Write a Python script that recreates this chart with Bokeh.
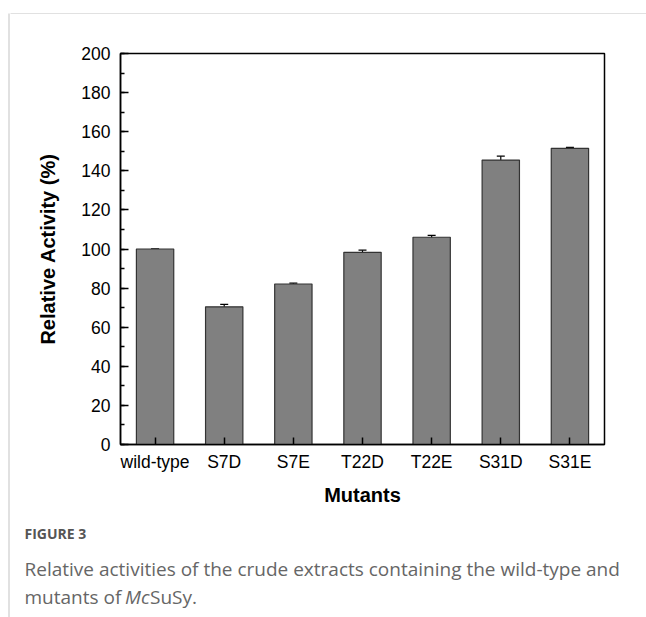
from bokeh.plotting import figure
from bokeh.layouts import row, column
from bokeh.models import (ColumnDataSource, Whisker, TeeHead, SingleIntervalTicker,
                          FixedTicker, Range1d)
from bokeh.core.properties import value
from bokeh.embed import file_html
from bokeh.resources import INLINE

# ---- data ----
mutants = ["wild-type", "S7D", "S7E", "T22D", "T22E", "S31D", "S31E"]
activity = [100.0, 70.4, 82.1, 98.3, 106.0, 145.5, 151.5]
errors = [0.0, 1.3, 0.4, 1.1, 1.0, 2.0, 0.5]
y_ticks = [0, 20, 40, 60, 80, 100, 120, 140, 160, 180, 200]

caption_head = "FIGURE 3"
caption_line1 = "Relative activities of the crude extracts containing the wild-type and"
caption_line2 = ["mutants of ", "Mc", "SuSy."]

PAGE_W, PAGE_H = 646, 617
STRIP_W, TOP_H, MAIN_H = 10, 14, 501
CAP_H = PAGE_H - TOP_H - MAIN_H
RIGHT_W = PAGE_W - STRIP_W
LINE_COLOR = "#c4c4c4"


def no_align(f):
    try:
        f.frame_align = False
    except Exception:
        pass
    return f


def blank(width, height, xr, yr):
    f = figure(width=width, height=height, output_backend="svg", toolbar_location=None,
               x_range=Range1d(*xr), y_range=Range1d(*yr),
               min_border=0, min_border_left=0, min_border_right=0,
               min_border_top=0, min_border_bottom=0)
    f.axis.visible = False
    f.grid.visible = False
    f.outline_line_color = None
    f.background_fill_color = "white"
    f.border_fill_color = "white"
    return no_align(f)


# left strip: vertical frame line of the figure box
left = blank(STRIP_W, PAGE_H, (0, STRIP_W), (PAGE_H, 0))
left.quad(left=[8], right=[9], top=[13], bottom=[PAGE_H], fill_color=LINE_COLOR,
          line_color=None)

# top strip: horizontal frame line
top = blank(RIGHT_W, TOP_H, (STRIP_W, PAGE_W), (TOP_H, 0))
top.quad(left=[STRIP_W - 2], right=[PAGE_W], top=[13], bottom=[14], fill_color=LINE_COLOR,
         line_color=None)

# ---- main chart ----
FL, FR, FT, FB = 120, 604, 53, 444  # page coords of frame
xs = list(range(len(mutants)))
src = ColumnDataSource(dict(
    x=xs, top=activity,
    upper=[a + e for a, e in zip(activity, errors)],
    lower=[a - e for a, e in zip(activity, errors)],
))

p = figure(width=RIGHT_W, height=MAIN_H, output_backend="svg", toolbar_location=None,
           x_range=Range1d(-0.5, len(mutants) - 0.5), y_range=Range1d(0, 200),
           min_border_left=FL - STRIP_W, min_border_right=PAGE_W - FR,
           min_border_top=FT - TOP_H, min_border_bottom=TOP_H + MAIN_H - FB)
no_align(p)
p.background_fill_color = "white"
p.border_fill_color = "white"
p.outline_line_color = "black"
p.outline_line_width = 1.5
p.xgrid.visible = False
p.ygrid.visible = False

p.vbar(x="x", top="top", bottom=0, width=0.54, source=src,
       fill_color="#808080", line_color="#333333", line_width=1.2)

w = Whisker(base="x", upper="upper", lower="lower", source=src,
            line_color="black", line_width=1.2,
            upper_head=TeeHead(size=8, line_color="black", line_width=1.2),
            lower_head=TeeHead(size=8, line_color="black", line_width=1.2))
p.add_layout(w)

FONT = "Liberation Sans"

ya = p.yaxis[0]
ya.ticker = SingleIntervalTicker(interval=20, num_minor_ticks=2)
ya.major_tick_in = 8
ya.major_tick_out = 0
ya.minor_tick_in = 4
ya.minor_tick_out = 0
ya.axis_line_width = 1.5
ya.major_tick_line_width = 1.5
ya.minor_tick_line_width = 1.5
ya.major_label_text_font = FONT
ya.major_label_text_font_size = "17.5px"
ya.major_label_text_color = "black"
ya.major_label_standoff = 10
ya.axis_label = "Relative Activity (%)"
ya.axis_label_text_font = FONT
ya.axis_label_text_font_style = "bold"
ya.axis_label_text_font_size = "20px"
ya.axis_label_text_color = "black"
ya.axis_label_standoff = 19

xa = p.xaxis[0]
xa.ticker = FixedTicker(ticks=xs)
xa.major_label_overrides = {i: m for i, m in enumerate(mutants)}
xa.major_tick_in = 7
xa.major_tick_out = 0
xa.minor_tick_in = 0
xa.minor_tick_out = 0
xa.axis_line_width = 1.5
xa.major_tick_line_width = 1.5
xa.major_label_text_font = FONT
xa.major_label_text_font_size = "17.5px"
xa.major_label_text_color = "black"
xa.major_label_standoff = 7
xa.axis_label = "Mutants"
xa.axis_label_text_font = FONT
xa.axis_label_text_font_style = "bold"
xa.axis_label_text_font_size = "20px"
xa.axis_label_text_color = "black"
xa.axis_label_standoff = 9

# ---- caption ----
cap_top = TOP_H + MAIN_H
cap = blank(RIGHT_W, CAP_H, (STRIP_W, PAGE_W), (PAGE_H, cap_top))
CAP = "Open Sans"
CX = 24
cap.text(x=[CX], y=[533], text=[caption_head], text_font=value(CAP),
         text_font_size="14px", text_font_style="bold", text_color="#555555",
         text_baseline="alphabetic")
cap.text(x=[CX], y=[568], text=[caption_line1], text_font=value(CAP),
         text_font_size="19px", text_color="#666666", text_baseline="alphabetic")
cap.text(x=[CX], y=[596], text=[caption_line2[0]], text_font=value(CAP),
         text_font_size="19px", text_color="#666666", text_baseline="alphabetic")
cap.text(x=[CX + 100.5], y=[596], text=[caption_line2[1]], text_font=value(CAP),
         text_font_size="19px", text_font_style="italic", text_color="#666666",
         text_baseline="alphabetic")
cap.text(x=[CX + 100.5 + 25], y=[596], text=[caption_line2[2]], text_font=value(CAP),
         text_font_size="19px", text_color="#666666", text_baseline="alphabetic")

layout = row(left, column(top, p, cap, spacing=0), spacing=0)

open("out.html", "w").write(file_html(layout, INLINE))
